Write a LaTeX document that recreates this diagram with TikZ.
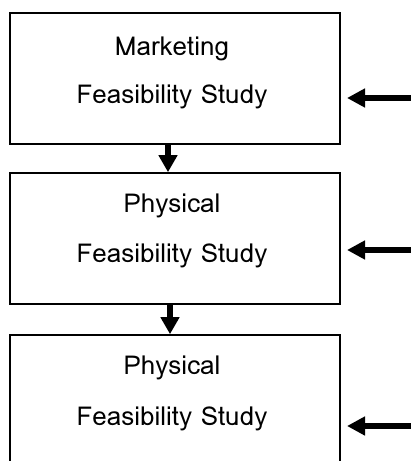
\documentclass[tikz,border=0pt]{standalone}
\usepackage{fontspec}
\newfontfamily\lomafont{Loma}
\usetikzlibrary{arrows.meta}
\begin{document}
\begin{tikzpicture}[x=1pt,y=-1pt,
  box/.style={draw=black,line width=1.6pt,rectangle,minimum width=330pt,inner sep=0pt},
  lbl/.style={font=\lomafont\fontsize{26}{28}\selectfont,inner sep=0pt,anchor=base},
  down/.style={line width=6.5pt,-{Triangle[width=18pt,length=17pt]}},
  inarrow/.style={line width=5.5pt,-{Triangle[width=18pt,length=18pt]}}]
\useasboundingbox (0,0) rectangle (411,461);
\clip (0,0) rectangle (411,461);
\node[box,minimum height=131pt] (b1) at (175,78.5) {};
\node[box,minimum height=131pt] (b2) at (175,238.5) {};
\node[box,minimum height=140pt] (b3) at (175,405) {};
\node[lbl] (t1a) at (172,55) {Marketing};
\node[lbl] (t1b) at (172,103) {Feasibility Study};
\node[lbl] (t2a) at (172,212) {Physical};
\node[lbl] (t2b) at (172,262) {Feasibility Study};
\node[lbl] (t3a) at (172,374) {Physical};
\node[lbl] (t3b) at (172,425) {Feasibility Study};
\draw[down] (b1.south -| 168,0) -- (b2.north -| 168,0);
\draw[down] (b2.south -| 170,0) -- (b3.north -| 170,0);
\coordinate (s1) at (411,98);
\coordinate (e1) at (347,98);
\coordinate (s2) at (411,250);
\coordinate (e2) at (347,250);
\coordinate (s3) at (411,426);
\coordinate (e3) at (347,426);
\draw[inarrow] (s1) -- (e1);
\draw[inarrow] (s2) -- (e2);
\draw[inarrow] (s3) -- (e3);
\end{tikzpicture}
\end{document}
